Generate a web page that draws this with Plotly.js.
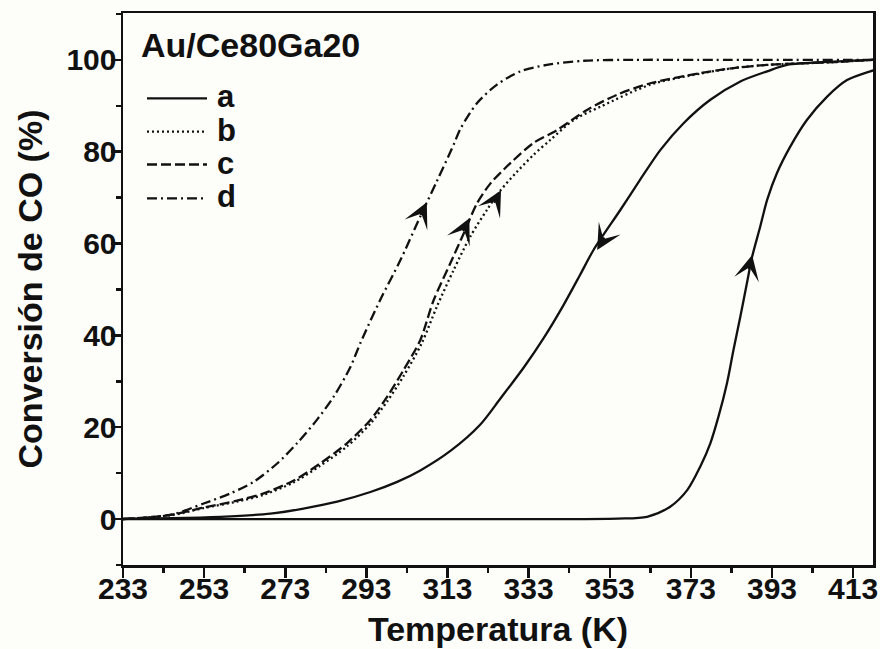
<!DOCTYPE html>
<html>
<head>
<meta charset="utf-8">
<script src="https://cdn.plot.ly/plotly-3.0.1.min.js"></script>
<style>html,body{margin:0;padding:0;background:#fdfdf9;}#chart{width:880px;height:649px;}</style>
</head>
<body>
<div id="chart"></div>
<script>
// ---- Data ----
const T_a_heat = [233, 280, 330, 355, 362.2, 367.9, 372.1, 375.3, 377.8, 379.8, 381.9, 383.5, 385.2, 386.8, 388.1, 390.1, 391.8, 394.2, 397.5, 401.6, 406.6, 411.5, 417.2, 418];
const C_a_heat = [0, 0, 0, 0.1, 0.5, 2.7, 6.3, 11.4, 16.5, 22.3, 29.6, 36.8, 44.1, 51.3, 57.1, 63.7, 69.5, 75.3, 81.1, 86.9, 92.0, 95.6, 97.5, 97.7];

const T_a_cool = [233, 245, 257, 269.3, 277.5, 285.8, 294, 300.6, 306.3, 313.8, 321.1, 326, 331.8, 336.7, 341.6, 345.7, 349, 355.6, 360.5, 365.5, 371.2, 377.8, 385.2, 391.8, 396.7, 408.1, 418];
const C_a_cool = [0.1, 0.2, 0.5, 1.2, 2.3, 3.8, 5.9, 8.1, 10.6, 14.9, 20.6, 26.2, 33.0, 39.4, 46.6, 53.2, 58.6, 67.3, 73.9, 80.4, 86.2, 91.3, 95.3, 97.5, 98.9, 99.6, 100];

const T_b = [233, 244.7, 252.9, 261.1, 267.7, 275.1, 281.6, 288.2, 294, 298.1, 302.2, 306.6, 310.4, 314.5, 318.6, 322.7, 326, 330.1, 334.2, 338.4, 344.1, 350.7, 363, 375.3, 383.5, 391.8, 408.2, 418];
const C_b = [0, 0.8, 2.4, 3.8, 5.3, 8.0, 11.6, 15.8, 20.8, 25.6, 31.2, 38.2, 46.3, 54.2, 61.5, 67.3, 71.5, 75.6, 79.3, 82.6, 86.9, 89.8, 94.6, 97, 98.2, 98.9, 99.5, 100];

const T_c = [233, 244.7, 252.9, 261.1, 267.7, 275.1, 281.6, 288.2, 294, 298.1, 302.2, 306.3, 309.6, 313.7, 317, 320.3, 323.6, 328.5, 334.2, 340, 347.4, 354.8, 363, 375.3, 383.5, 391.8, 408.2, 418];
const C_c = [0, 0.9, 2.5, 4.0, 5.6, 8.4, 12.1, 16.5, 21.6, 26.6, 32.5, 39, 47.7, 55.7, 62.2, 68.8, 73.1, 77.5, 81.9, 84.7, 89.1, 92.4, 94.9, 97.1, 98.2, 98.9, 99.5, 100];

const T_d = [233, 244.7, 252.9, 259.5, 265.2, 271, 275.9, 280.8, 284.9, 289, 291.6, 296.4, 301.4, 306.3, 310.4, 314.5, 316.2, 320.3, 325.2, 331, 337.5, 346.6, 358.9, 375.3, 418];
const C_d = [0, 0.9, 3.4, 5.6, 8.1, 12.1, 16.5, 21.6, 26.6, 33.0, 38.5, 47.7, 56.4, 65.9, 73.6, 81.5, 85.0, 90.6, 94.6, 97.5, 98.9, 99.8, 100, 100, 100];

// arrow positions on curves: [T, C] and tail direction in px
const arrowT = [307.9, 318.4, 326.2, 349.9, 388.1];
const arrowC = [69.0, 65.5, 71.6, 58.6, 57.5];
const arrowDX = [-4.3, -4.4, -4.8, 5.0, -2.2];
const arrowDY = [9.0, 9.0, 8.8, -8.7, 9.8];

const legendLabels = ['a', 'b', 'c', 'd'];
const tickValsX = [233, 253, 273, 293, 313, 333, 353, 373, 393, 413];
const tickValsY = [0, 20, 40, 60, 80, 100];

// ---- Layout helpers ----
const W = 880, H = 649;
const M = {l: 123, r: 7, t: 13, b: 84};
const PW = W - M.l - M.r, PH = H - M.t - M.b;
const px = x => (x - M.l) / PW;
const py = y => (H - M.b - y) / PH;

const FONT = 'Liberation Sans, Arial, sans-serif';
const dashes = {a: 'solid', b: '2px,3px', c: '10px,4px', d: '10px,4px,2px,4px'};

const line = (dash) => ({color: '#111', width: 2.3, dash: dash, shape: 'spline', smoothing: 0.8});

const traces = [
  {x: T_a_heat, y: C_a_heat, mode: 'lines', name: 'a', line: line(dashes.a), showlegend: false},
  {x: T_a_cool, y: C_a_cool, mode: 'lines', name: 'a', line: line(dashes.a), showlegend: false},
  {x: T_b, y: C_b, mode: 'lines', name: 'b', line: line(dashes.b), showlegend: false},
  {x: T_c, y: C_c, mode: 'lines', name: 'c', line: line(dashes.c), showlegend: false},
  {x: T_d, y: C_d, mode: 'lines', name: 'd', line: line(dashes.d), showlegend: false}
];

const annotations = [];
const shapes = [];

// arrows
for (let i = 0; i < arrowT.length; i++) {
  annotations.push({
    x: arrowT[i], y: arrowC[i], xref: 'x', yref: 'y',
    text: '', showarrow: true, arrowhead: 3, arrowsize: 2.1, arrowwidth: 2,
    arrowcolor: '#111', ax: arrowDX[i] * 1.6, ay: arrowDY[i] * 1.6, axref: 'pixel', ayref: 'pixel'
  });
}

// title inside the plot
annotations.push({
  xref: 'paper', yref: 'paper', x: px(139), y: py(45), xanchor: 'left', yanchor: 'middle',
  text: 'Au/Ce80Ga20', showarrow: false,
  font: {family: FONT, size: 34, weight: 'bold', color: '#111'}
});

// custom legend
const rowY = [98.3, 131.7, 164.5, 198.3];
const keys = ['a', 'b', 'c', 'd'];
for (let i = 0; i < 4; i++) {
  shapes.push({
    type: 'line', xref: 'paper', yref: 'paper',
    x0: px(147), x1: px(207), y0: py(rowY[i]), y1: py(rowY[i]),
    line: {color: '#111', width: 2.3, dash: dashes[keys[i]]}
  });
  annotations.push({
    xref: 'paper', yref: 'paper', x: px(215), y: py(rowY[i] - 1.5), xanchor: 'left', yanchor: 'middle',
    text: legendLabels[i], showarrow: false,
    font: {family: FONT, size: 31, weight: 'bold', color: '#111'}
  });
}

const axisCommon = {
  showline: true, linewidth: 2.5, linecolor: '#111', mirror: true,
  ticks: 'outside', ticklen: 10, tickwidth: 2.5, tickcolor: '#111',
  showgrid: false, zeroline: false,
  tickfont: {family: FONT, size: 30, weight: 'bold', color: '#111'}
};

const layout = {
  width: W, height: H,
  margin: M,
  paper_bgcolor: '#fdfdf9', plot_bgcolor: '#fdfdf9',
  showlegend: false,
  xaxis: Object.assign({}, axisCommon, {
    range: [233, 417.9], tickmode: 'array', tickvals: tickValsX,
    ticklabelstandoff: -15,
    minor: {ticks: 'outside', ticklen: 5, tickwidth: 2.5, tickcolor: '#111', tick0: 243, dtick: 20},
    title: {text: 'Temperatura (K)', standoff: 14, font: {family: FONT, size: 34, weight: 'bold', color: '#111'}}
  }),
  yaxis: Object.assign({}, axisCommon, {
    range: [-10, 110.2], tickmode: 'array', tickvals: tickValsY,
    ticklabelstandoff: -12,
    minor: {ticks: 'outside', ticklen: 5, tickwidth: 2.5, tickcolor: '#111', tick0: -10, dtick: 20},
    title: {text: 'Conversión de CO (%)', standoff: 14, font: {family: FONT, size: 34, weight: 'bold', color: '#111'}}
  }),
  annotations: annotations,
  shapes: shapes
};

Plotly.newPlot('chart', traces, layout, {staticPlot: true, displayModeBar: false});
</script>
</body>
</html>
